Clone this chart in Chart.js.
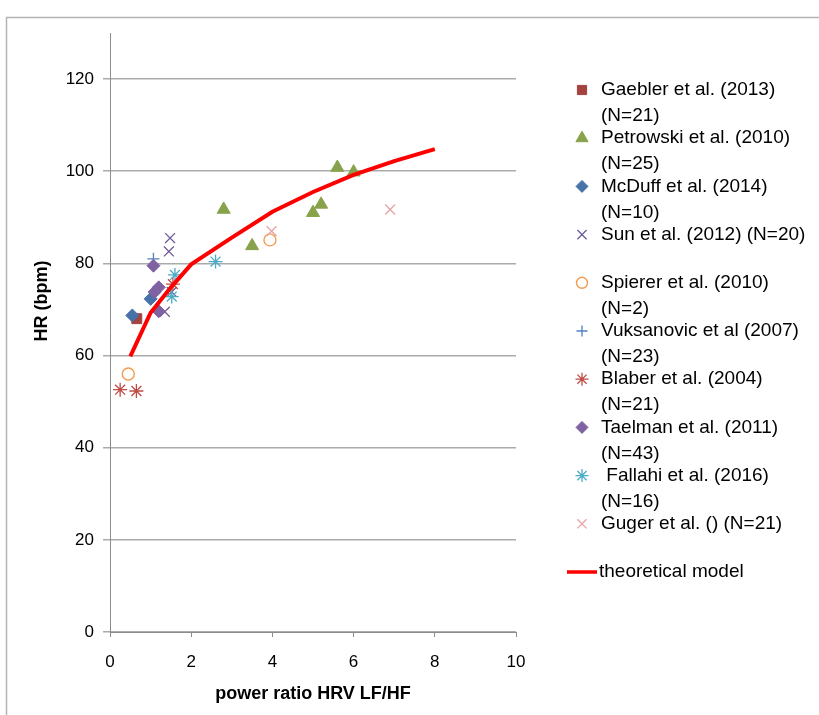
<!DOCTYPE html>
<html>
<head>
<meta charset="utf-8">
<script src="https://cdn.jsdelivr.net/npm/chart.js@4.4.1/dist/chart.umd.min.js"></script>
<style>
html,body{margin:0;padding:0;background:#fff;}
#wrap{position:relative;width:819px;height:715px;}
</style>
</head>
<body>
<div id="wrap"><canvas id="c" width="819" height="715"></canvas></div>
<script>
// ---- data ----
const seriesNames = [
  "Gaebler et al. (2013)\n(N=21)",
  "Petrowski et al. (2010)\n(N=25)",
  "McDuff et al. (2014)\n(N=10)",
  "Sun et al. (2012) (N=20)",
  "Spierer et al. (2010)\n(N=2)",
  "Vuksanovic et al (2007)\n(N=23)",
  "Blaber et al. (2004)\n(N=21)",
  "Taelman et al. (2011)\n(N=43)",
  " Fallahi et al. (2016)\n(N=16)",
  "Guger et al. () (N=21)"
];
const modelName = "theoretical model";

const gaeblerX = [0.66];
const gaeblerY = [68.0];
const petrowskiX = [2.8, 3.5, 5.0, 5.2, 5.6, 6.0];
const petrowskiY = [91.7, 83.8, 91.0, 92.8, 100.8, 99.8];
const mcduffX = [0.55, 1.0];
const mcduffY = [68.7, 72.3];
const sunX = [1.48, 1.45, 1.52, 1.35];
const sunY = [85.5, 82.6, 73.8, 69.5];
const spiererX = [0.45, 3.94];
const spiererY = [56.0, 85.1];
const vuksanovicX = [1.07];
const vuksanovicY = [81.0];
const blaberX = [0.25, 0.65, 1.55];
const blaberY = [52.6, 52.3, 75.5];
const taelmanX = [1.07, 1.2, 1.1, 1.2];
const taelmanY = [79.5, 74.8, 73.8, 69.6];
const fallahiX = [1.6, 1.52, 2.6];
const fallahiY = [77.5, 72.8, 80.4];
const gugerX = [3.98, 6.9];
const gugerY = [87.0, 91.7];

const modelX = [0.5, 1, 1.5, 2, 3, 4, 5, 6, 7, 8];
const modelY = [59.8, 69.3, 74.8, 79.8, 85.6, 91.2, 95.5, 99.2, 102.2, 104.8];

const xTickValues = [0, 2, 4, 6, 8, 10];
const yTickValues = [0, 20, 40, 60, 80, 100, 120];
const xTitle = "power ratio HRV LF/HF";
const yTitle = "HR (bpm)";

// ---- styling ----
const seriesX = [gaeblerX, petrowskiX, mcduffX, sunX, spiererX, vuksanovicX, blaberX, taelmanX, fallahiX, gugerX];
const seriesY = [gaeblerY, petrowskiY, mcduffY, sunY, spiererY, vuksanovicY, blaberY, taelmanY, fallahiY, gugerY];
const styles = [
  {pointStyle:'rect',     fill:'#A3423F', stroke:'#A3423F', r:7,   bw:1},
  {pointStyle:'triangle', fill:'#87A24A', stroke:'#87A24A', r:7.5, bw:1},
  {pointStyle:'rectRot',  fill:'#4672A9', stroke:'#4672A9', r:6.5, bw:1},
  {pointStyle:'crossRot', fill:'#6F5A9A', stroke:'#6F5A9A', r:7,   bw:1.3},
  {pointStyle:'circle',   fill:'rgba(0,0,0,0)', stroke:'#F59A4E', r:6, bw:1.4},
  {pointStyle:'cross',    fill:'#4F81BD', stroke:'#4F81BD', r:6,   bw:1.3},
  {pointStyle:'star',     fill:'#BE4B48', stroke:'#BE4B48', r:7,   bw:1.3},
  {pointStyle:'rectRot',  fill:'#7F62A1', stroke:'#7F62A1', r:6.5, bw:1},
  {pointStyle:'star',     fill:'#4BACC6', stroke:'#4BACC6', r:7,   bw:1.3},
  {pointStyle:'crossRot', fill:'#E4A5A4', stroke:'#E4A5A4', r:7,   bw:1.3}
];

const toPts = (xs, ys) => xs.map((x, i) => ({x: x, y: ys[i]}));

const datasets = seriesNames.map((name, i) => ({
  label: name,
  data: toPts(seriesX[i], seriesY[i]),
  pointStyle: styles[i].pointStyle,
  pointRadius: styles[i].r,
  pointHoverRadius: styles[i].r,
  pointBackgroundColor: styles[i].fill,
  pointBorderColor: styles[i].stroke,
  pointBorderWidth: styles[i].bw,
  showLine: false,
  order: 20 - i
}));
datasets.push({
  label: modelName,
  data: toPts(modelX, modelY),
  showLine: true,
  borderColor: '#FF0000',
  borderWidth: 4,
  pointRadius: 0,
  tension: 0,
  fill: false,
  order: 0
});

const FONT = '"Liberation Sans", Arial, sans-serif';

const framePlugin = {
  id: 'frame',
  beforeDraw(chart) {
    const ctx = chart.ctx;
    ctx.save();
    ctx.fillStyle = '#fff';
    ctx.fillRect(0, 0, chart.width, chart.height);
    ctx.strokeStyle = '#b4b4b4';
    ctx.lineWidth = 1.5;
    ctx.strokeRect(6.5, 17.5, 900, 800);
    ctx.restore();
  }
};

const legendPlugin = {
  id: 'customLegend',
  afterDraw(chart) {
    const ctx = chart.ctx;
    ctx.save();
    ctx.font = '19px ' + FONT;
    ctx.textBaseline = 'middle';
    ctx.textAlign = 'left';
    const markerX = 582, textX = 601, startY = 90, step = 48.2, lineGap = 26;
    seriesNames.forEach((name, i) => {
      const y = startY + i * step;
      const st = styles[i];
      ctx.fillStyle = st.fill;
      ctx.strokeStyle = st.stroke;
      ctx.lineWidth = st.bw;
      Chart.helpers.drawPoint(ctx, {pointStyle: st.pointStyle, radius: st.r - 0.5, rotation: 0, borderWidth: st.bw}, markerX, y);
      ctx.fillStyle = '#000';
      name.split('\n').forEach((line, k) => {
        ctx.fillText(line, textX, y + k * lineGap);
      });
    });
    const my = startY + seriesNames.length * step;
    ctx.strokeStyle = '#FF0000';
    ctx.lineWidth = 3.5;
    ctx.beginPath();
    ctx.moveTo(567, my);
    ctx.lineTo(597, my);
    ctx.stroke();
    ctx.fillStyle = '#000';
    ctx.fillText(modelName, 599, my);

    // axis titles
    ctx.font = 'bold 18px ' + FONT;
    ctx.textAlign = 'center';
    ctx.fillText(xTitle, 313, 694);
    ctx.save();
    ctx.translate(42, 301);
    ctx.rotate(-Math.PI / 2);
    ctx.fillText(yTitle, 0, 0);
    ctx.restore();
    ctx.restore();
  }
};

new Chart(document.getElementById('c'), {
  type: 'scatter',
  data: { datasets: datasets },
  options: {
    responsive: false,
    devicePixelRatio: 1,
    animation: false,
    events: [],
    layout: { padding: { left: 0, top: 33, right: 303, bottom: 0 } },
    plugins: { legend: { display: false }, tooltip: { enabled: false } },
    scales: {
      x: {
        type: 'linear',
        min: 0, max: 10,
        afterBuildTicks: (s) => { s.ticks = xTickValues.map(v => ({value: v})); },
        afterFit: (s) => { s.height = 83; },
        ticks: { font: { family: FONT, size: 17 }, color: '#000', padding: 15, maxRotation: 0 },
        grid: { drawOnChartArea: false, drawTicks: true, tickLength: 5, color: '#8c8c8c', lineWidth: 1 },
        border: { color: '#8c8c8c', width: 1 }
      },
      y: {
        type: 'linear',
        min: 0, max: 130,
        afterBuildTicks: (s) => { s.ticks = yTickValues.map(v => ({value: v})); },
        afterFit: (s) => { s.width = 110; },
        ticks: { font: { family: FONT, size: 17 }, color: '#000', padding: 9 },
        grid: { drawOnChartArea: true, drawTicks: true, tickLength: 7, color: '#ababab', lineWidth: 1.5 },
        border: { color: '#8c8c8c', width: 1 }
      }
    }
  },
  plugins: [framePlugin, legendPlugin]
});
</script>
</body>
</html>
